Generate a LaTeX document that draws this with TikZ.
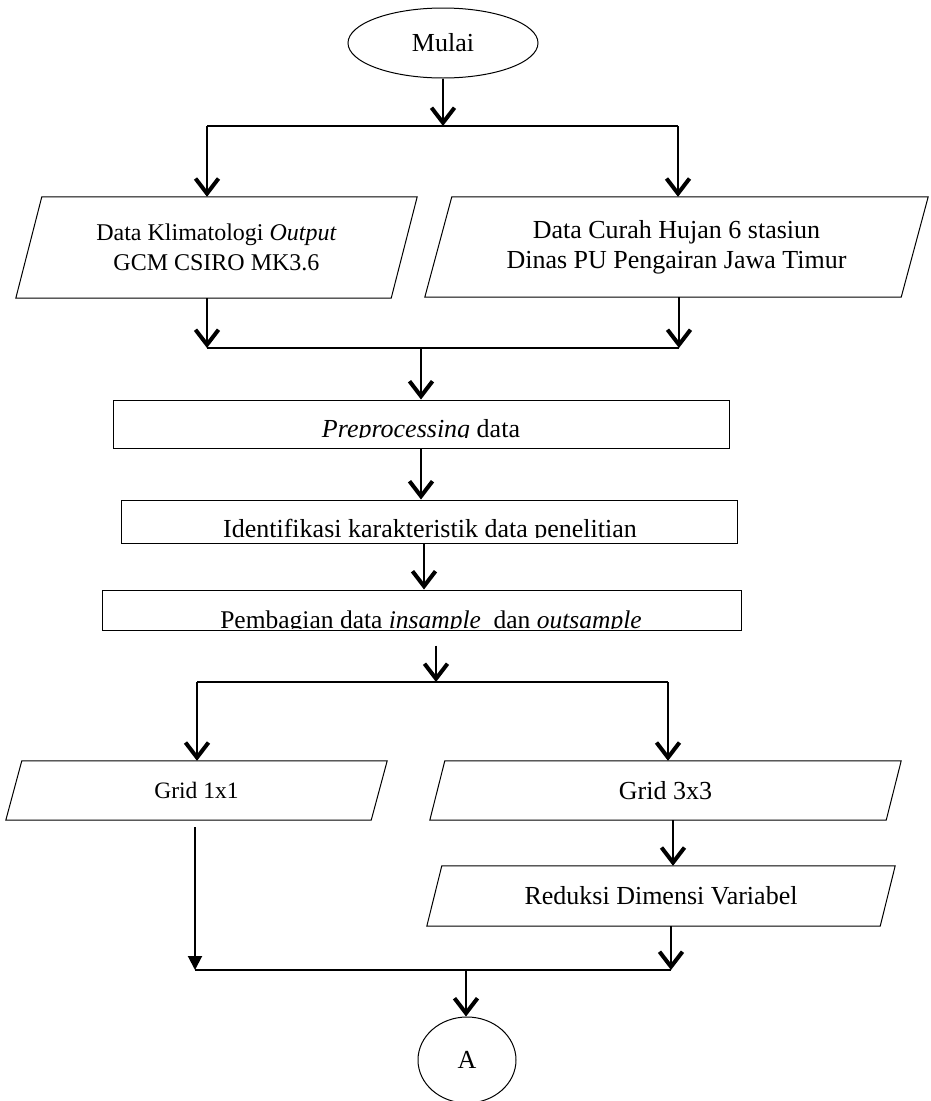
\documentclass[tikz,border=0pt]{standalone}
\usepackage{fontspec}
\setmainfont{Liberation Serif}
\usetikzlibrary{arrows.meta,shapes.geometric}
\tikzset{
  ar/.style={-{Straight Barb[length=15pt,width=23pt,line width=4pt]},line width=2pt},
  tri/.style={-{Triangle[length=14pt,width=14pt]},line width=2pt},
  ln/.style={line width=2pt},
  box/.style={draw,line width=1pt,rectangle,inner sep=0pt},
  io/.style={rectangle,inner sep=0pt,align=center},
  term/.style={draw,line width=1pt,ellipse,inner sep=0pt},
  txt/.style={font=\fontsize{26}{30}\selectfont}
}
\begin{document}
\begin{tikzpicture}[x=1pt,y=-1pt]
\fill[white] (0,0) rectangle (930,1101);
\useasboundingbox (0,0) rectangle (930,1101);
\node[term,txt,minimum width=190pt,minimum height=70pt] (mulai) at (443,43) {Mulai};
\node[io,minimum width=401pt,minimum height=101pt,font=\fontsize{24}{30}\selectfont] (klim) at (216.5,247.5) {Data Klimatologi \textit{Output}\\GCM CSIRO MK3.6};
\node[io,txt,minimum width=503pt,minimum height=100pt] (hujan) at (676.5,247) {Data Curah Hujan 6 stasiun\\Dinas PU Pengairan Jawa Timur};
\node[box,minimum width=616pt,minimum height=48pt] (prep) at (421,424) {};
\node[box,minimum width=616pt,minimum height=43pt] (iden) at (429,521.5) {};
\node[box,minimum width=639pt,minimum height=40pt] (bagi) at (421.5,610) {};
\node[io,minimum width=381pt,minimum height=59pt,font=\fontsize{23.5}{28}\selectfont] (g1) at (196.5,790.5) {Grid 1x1};
\node[io,txt,minimum width=471pt,minimum height=59pt] (g3) at (665.5,790.5) {Grid 3x3};
\node[io,txt,minimum width=468pt,minimum height=60pt] (red) at (661,896) {Reduksi Dimensi Variabel};
\node[term,txt,minimum width=98pt,minimum height=86pt] (A) at (467,1060) {A};
% jajaran genjang input/output
\foreach \n/\s in {klim/26,hujan/27,g1/16,g3/15,red/15}
  \draw[line width=1pt] ([xshift=\s pt]\n.north west) -- (\n.north east) -- ([xshift=-\s pt]\n.south east) -- (\n.south west) -- cycle;
% teks kotak terpotong di garis dasar
\begin{scope}
\clip (113,400) rectangle (729,437);
\node[txt,anchor=base] (tprep) at (421,437) {\textit{Preprocessing} data};
\end{scope}
\begin{scope}
\clip (121,500) rectangle (737,537);
\node[txt,anchor=base] (tiden) at (430,537) {Identifikasi karakteristik data penelitian};
\end{scope}
\begin{scope}
\clip (102,590) rectangle (741,628);
\node[font=\fontsize{25.5}{30}\selectfont,anchor=base] (tbagi) at (431,628) {Pembagian data \textit{insample}\ \ dan \textit{outsample}};
\end{scope}
\coordinate (l1a) at (207,126);
\coordinate (l1b) at (678,126);
\coordinate (l2a) at (207,348);
\coordinate (l2b) at (679,348);
\coordinate (l3a) at (197,682);
\coordinate (l3b) at (668,682);
\coordinate (l4a) at (195,970);
\coordinate (l4b) at (671,970);
\draw[ar] (mulai) -- (mulai |- l1a);
\draw[ln] (l1a) -- (l1b);
\draw[ar] (l1a) -- (l1a |- klim.north);
\draw[ar] (l1b) -- (l1b |- hujan.north);
\draw[ar] (l2a |- klim.south) -- (l2a);
\draw[ar] (l2b |- hujan.south) -- (l2b);
\draw[ln] (l2a) -- (l2b);
\draw[ar] (prep |- l2a) -- (prep.north);
\draw[ar] (prep.south) -- (prep.south |- iden.north);
\draw[ar] ([xshift=-5pt]iden.south) -- ([xshift=-5pt]iden.south |- bagi.north);
\draw[ar] ([xshift=14.5pt,yshift=-15pt]bagi.south) -- ([xshift=14.5pt]bagi.south |- l3a);
\draw[ln] (l3a) -- (l3b);
\draw[ar] (l3a) -- (l3a |- g1.north);
\draw[ar] (l3b) -- (l3b |- g3.north);
\draw[tri] ([yshift=-7pt]g1.south -| l4a) -- (l4a);
\draw[ar] ([xshift=7.5pt]g3.south) -- ([xshift=7.5pt]g3.south |- red.north);
\draw[ar] (l4b |- red.south) -- (l4b);
\draw[ln] (l4a) -- (l4b);
\draw[ar] ([xshift=-1pt]A.north |- l4a) -- ([xshift=-1pt]A.north);
\end{tikzpicture}
\end{document}
